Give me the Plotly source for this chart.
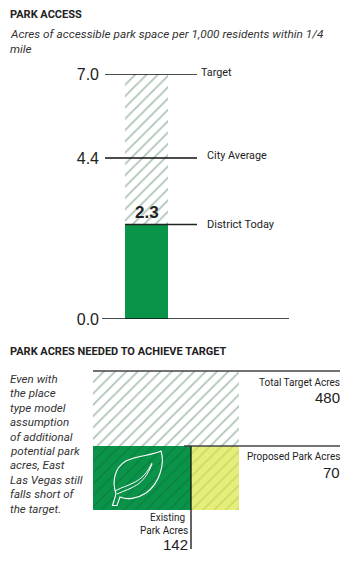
import plotly.graph_objects as go

W, H = 354, 575

# Upper chart. The source is not drawn to a linear scale, so the drawn heights
# are read from the picture and the printed values are kept as labels.
access_labels = ["0.0", "2.3", "4.4", "7.0"]
access_drawn = [0, 2.7, 4.6, 7.0]
access_names = ["District Today", "City Average", "Target"]

# Lower chart
existing_acres = 142
proposed_acres = 70
target_acres = 480
bottom_row_drawn = 221  # height of the lower row as drawn, on the 0-480 axis

INK = "#222222"
FONT = "Roboto"
GREEN = "#09944a"
GREEN_H = "#0c8242"
YELLOW = "#e6ee7a"
YELLOW_H = "#cdda68"
HATCH = "#adc4b5"


def px(x):
    return x / W


def py(y):
    return 1 - y / H


def pat(fg, bg, size=8, sol=0.22):
    return dict(shape="/", fgcolor=fg, bgcolor=bg, size=size, solidity=sol, fillmode="replace")


fig = go.Figure()
# upper bars
fig.add_trace(go.Bar(x=[44.5], y=[access_drawn[3]], width=[43], xaxis="x", yaxis="y",
                     marker=dict(color="white", pattern=pat(HATCH, "white"), line_width=0)))
fig.add_trace(go.Bar(x=[44.5], y=[access_drawn[1]], width=[43], xaxis="x", yaxis="y",
                     marker=dict(color=GREEN, line_width=0)))
# lower bars
row_total = existing_acres + proposed_acres
fig.add_trace(go.Bar(x=[row_total / 2], y=[target_acres - bottom_row_drawn], base=[bottom_row_drawn],
                     width=[row_total], xaxis="x2", yaxis="y2",
                     marker=dict(color="white", pattern=pat(HATCH, "white"), line_width=0)))
fig.add_trace(go.Bar(x=[existing_acres / 2], y=[bottom_row_drawn], width=[existing_acres],
                     xaxis="x2", yaxis="y2",
                     marker=dict(color=GREEN, pattern=pat(GREEN_H, GREEN), line_width=0)))
fig.add_trace(go.Bar(x=[existing_acres + proposed_acres / 2], y=[bottom_row_drawn], width=[proposed_acres],
                     xaxis="x2", yaxis="y2",
                     marker=dict(color=YELLOW, pattern=pat(YELLOW_H, YELLOW), line_width=0)))

shapes = []


def pline(x0, y0, x1, y1, color="#333333", w=1.3):
    shapes.append(dict(type="line", xref="paper", yref="paper", x0=px(x0), y0=py(y0), x1=px(x1), y1=py(y1),
                       line=dict(color=color, width=w), layer="above"))


def dline(x0, x1, v, color="#111111", w=1.3):
    shapes.append(dict(type="line", xref="x", yref="y", x0=x0, x1=x1, y0=v, y1=v,
                       line=dict(color=color, width=w), layer="above"))


dline(3, 95, access_drawn[3])
dline(3, 95, access_drawn[2])
dline(23, 95, access_drawn[1], "#222222")
dline(0, 187, access_drawn[0])

pline(93, 371, 340, 371, "#444444", 1.3)
pline(184, 446, 340, 446, "#444444", 1.3)
pline(191, 446, 191, 549, "#111111", 1.3)


def leaf(pts):
    out = []
    for cmd, coords in pts:
        s = cmd
        s += " ".join(f"{px(a):.5f},{py(b):.5f}" for a, b in coords)
        out.append(s)
    return " ".join(out)


body = leaf([
    ("M", [(112.5, 505.5)]),
    ("L", [(116, 494)]),
    ("C", [(112, 482), (114, 468), (126, 461)]),
    ("C", [(138, 455), (150, 456), (161, 451)]),
    ("C", [(165, 463), (160, 483), (146, 493)]),
    ("C", [(137, 499), (127, 500), (120, 497)]),
    ("L", [(117, 505.5)]),
    ("Z", []),
])
vein1 = leaf([("M", [(115, 491)]), ("C", [(130, 483), (142, 484), (152, 463)])])
vein2 = leaf([("M", [(117, 494)]), ("C", [(132, 487), (143, 487), (152, 464)])])
for d, w in ((body, 1.1), (vein1, 1.0), (vein2, 1.0)):
    shapes.append(dict(type="path", xref="paper", yref="paper", path=d,
                       line=dict(color="white", width=w), layer="above"))

ann = []


def text(x, y, s, size=10.5, anchor="left", color=INK, bold=False, italic=False, family=FONT):
    if bold:
        s = f"<b>{s}</b>"
    if italic:
        s = f"<i>{s}</i>"
    ann.append(dict(xref="paper", yref="paper", x=px(x), y=py(y), text=s, showarrow=False,
                    xanchor=anchor, yanchor="middle", borderpad=0, borderwidth=0, align=anchor,
                    font=dict(size=size, color=color, family=family)))


text(10, 15, "PARK ACCESS", 11, bold=True)
text(10, 34, "Acres of accessible park space per 1,000 residents within 1/4", 11.8, italic=True, color="#333333")
text(10, 49, "mile", 11.8, italic=True, color="#333333")
text(146.5, 212, access_labels[1], 17, "center", bold=True, family="Liberation Sans")
text(201, 73, access_names[2], 10.8)
text(207, 155, access_names[1], 10.8)
text(207, 224, access_names[0], 11)

text(10, 351, "PARK ACRES NEEDED TO ACHIEVE TARGET", 11, bold=True)
note = ["Even with", "the place", "type model", "assumption", "of additional", "potential park",
        "acres, East", "Las Vegas still", "falls short of", "the target."]
for i, line in enumerate(note):
    text(10, 379 + i * 14.4, line, 11.6, italic=True, color="#333333")

text(340, 382, "Total Target Acres", 10, "right")
text(340, 397, str(target_acres), 15, "right", family="Liberation Sans")
text(340, 456, "Proposed Park Acres", 10, "right")
text(340, 472, str(proposed_acres), 15, "right", family="Liberation Sans")
text(185, 517, "Existing", 10, "right")
text(188, 530, "Park Acres", 10, "right")
text(188, 544, str(existing_acres), 15, "right", family="Liberation Sans")

hidden = dict(visible=False, fixedrange=True, automargin=False)
fig.update_layout(
    template="none",
    width=W, height=H, autosize=False,
    margin=dict(l=0, r=0, t=0, b=0, pad=0),
    paper_bgcolor="white", plot_bgcolor="rgba(0,0,0,0)",
    showlegend=False, barmode="overlay", bargap=0,
    xaxis=dict(domain=[px(102), px(289)], range=[0, 187], anchor="y", **hidden),
    yaxis=dict(domain=[py(319), py(74)], range=[0, 7], anchor="x", fixedrange=True, automargin=False,
               showgrid=False, zeroline=False, showline=False, ticks="", ticklabelstandoff=2,
               tickmode="array", tickvals=[access_drawn[0], access_drawn[2], access_drawn[3]],
               ticktext=[access_labels[0], access_labels[2], access_labels[3]],
               tickfont=dict(size=16, color=INK, family="Liberation Sans")),
    xaxis2=dict(domain=[px(93), px(239)], range=[0, existing_acres + proposed_acres], anchor="y2", **hidden),
    yaxis2=dict(domain=[py(510), py(371)], range=[0, target_acres], anchor="x2", **hidden),
    shapes=shapes, annotations=ann,
)
fig.write_html("out.html", config=dict(displayModeBar=False, responsive=False),
               post_script="document.body.style.margin='0';document.body.style.overflow='hidden';")
